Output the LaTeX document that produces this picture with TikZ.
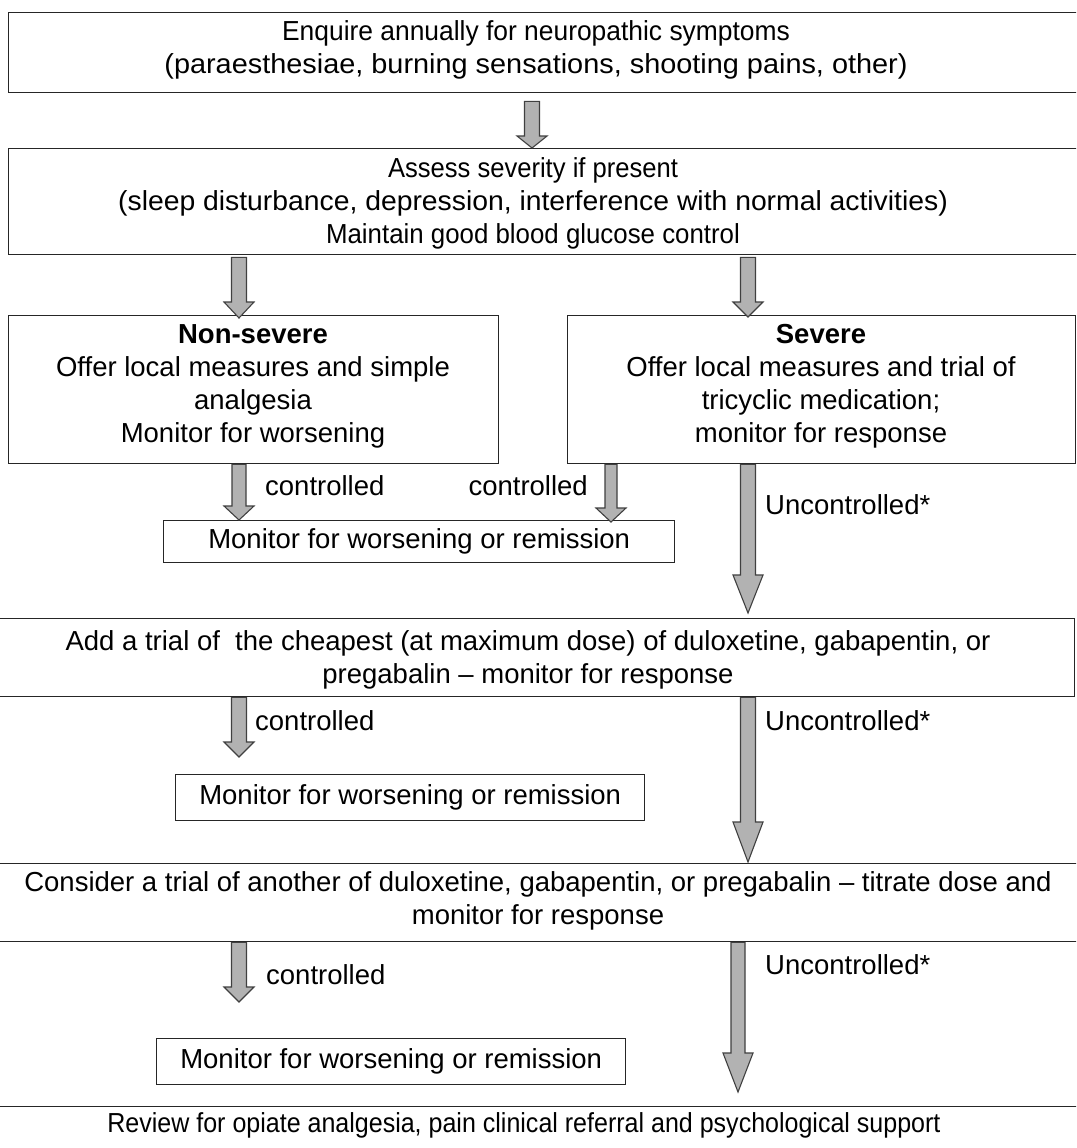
\documentclass[tikz,border=0pt]{standalone}
\usepackage{graphicx}
\usepackage{fontspec}
\setmainfont{Liberation Sans}
\usetikzlibrary{calc}
\tikzset{
  box/.style={draw=black!85, line width=1.4pt, rectangle, inner sep=0pt, anchor=north west},
  txt/.style={font=\fontsize{27.5}{33}\selectfont, align=center, inner sep=0pt},
  lbl/.style={font=\fontsize{27.5}{33}\selectfont, inner sep=0pt},
  barr/.style={fill=black!30, draw=black!75, line width=1.1pt, line join=miter},
}
\newcommand\hs[2]{\scalebox{#1}[1]{#2}}
\newcommand\blockarr[4]{%
  \draw[barr] let \p1=#1, \p2=#2 in
    ({\x1-#4pt},\y1) -- ({\x1+#4pt},\y1) -- ({\x1+#4pt},{\y2+#3pt}) -- ({\x1+15pt},{\y2+#3pt})
    -- (\x1,\y2) -- ({\x1-15pt},{\y2+#3pt}) -- ({\x1-#4pt},{\y2+#3pt}) -- cycle;}
\begin{document}
\begin{tikzpicture}[x=1pt,y=-1pt]
\useasboundingbox (0,0) rectangle (1076,1148);
\clip (0,0) rectangle (1076,1148);
\fill[white] (0,0) rectangle (1076,1148);
% boxes
\node[box, minimum width=1082pt, minimum height=80pt] (box1) at (8,12) {};
\node[box, minimum width=1082pt, minimum height=106pt] (box2) at (8,148) {};
\node[box, minimum width=490pt, minimum height=148pt] (nonsev) at (8,315) {};
\node[box, minimum width=508pt, minimum height=148pt] (sev) at (567,315) {};
\node[box, minimum width=511pt, minimum height=42pt, txt] (mon1) at (163,520) {Monitor for worsening or remission};
\node[box, minimum width=1092pt, minimum height=78pt] (box3) at (-18,618) {};
\node[box, minimum width=469pt, minimum height=46pt, txt] (mon2) at (175,774) {Monitor for worsening or remission};
\node[box, minimum width=1120pt, minimum height=78pt] (box4) at (-20,863) {};
\node[box, minimum width=469pt, minimum height=46pt, txt] (mon3) at (156,1038) {Monitor for worsening or remission};
\node[box, minimum width=1120pt, minimum height=80pt] (box5) at (-20,1106) {};
% texts of boxes
\node[txt] (t1) at (536,49.5) {\hs{0.96}{Enquire annually for neuropathic symptoms}\\\hs{1.05}{(paraesthesiae, burning sensations, shooting pains, other)}};
\node[txt] (t2) at (533,203.5) {\hs{0.93}{Assess severity if present}\\\hs{1.03}{(sleep disturbance, depression, interference with normal activities)}\\\hs{0.94}{Maintain good blood glucose control}};
\node[txt] (tns) at (253,386.5) {\textbf{Non-severe}\\Offer local measures and simple\\analgesia\\Monitor for worsening};
\node[txt] (tsev) at (821,386.5) {\textbf{Severe}\\Offer local measures and trial of\\tricyclic medication;\\monitor for response};
\node[txt] (t3) at (528,660) {Add a trial of~~the cheapest (at maximum dose) of duloxetine, gabapentin, or\\pregabalin -- monitor for response};
\node[txt] (t4) at (538,901) {Consider a trial of another of duloxetine, gabapentin, or pregabalin -- titrate dose and\\monitor for response};
\node[txt] (t5) at (524,1125) {\hs{0.91}{Review for opiate analgesia, pain clinical referral and psychological support}};
% arrows
\blockarr{([xshift=524pt,yshift=-8pt]box1.south west)}{([xshift=524pt]box2.north west)}{12}{7.5}
\blockarr{([xshift=231pt,yshift=-2pt]box2.south west)}{([xshift=231pt,yshift=-3pt]nonsev.north west)}{16}{7.5}
\blockarr{([xshift=740pt,yshift=-2pt]box2.south west)}{([xshift=181pt,yshift=-2pt]sev.north west)}{15}{7.5}
\blockarr{([xshift=231pt]nonsev.south west)}{([xshift=76pt]mon1.north west)}{14}{7}
\blockarr{([xshift=44pt]sev.south west)}{([xshift=448pt,yshift=-2pt]mon1.north west)}{14}{6}
\blockarr{([xshift=181pt]sev.south west)}{([xshift=766pt,yshift=5pt]box3.north west)}{38}{7.5}
\blockarr{([xshift=257pt]box3.south west)}{([xshift=64pt,yshift=17pt]mon2.north west)}{15}{7.5}
\blockarr{([xshift=766pt]box3.south west)}{([xshift=768pt,yshift=1pt]box4.north west)}{40}{7.5}
\blockarr{([xshift=259pt]box4.south west)}{([xshift=83pt,yshift=36pt]mon3.north west)}{15}{7.5}
\blockarr{([xshift=758pt]box4.south west)}{([xshift=758pt,yshift=14pt]box5.north west)}{39}{7}
% labels
\node[lbl, anchor=west] (l1) at (265,486) {controlled};
\node[lbl, anchor=east] (l2) at (588,486) {controlled};
\node[lbl, anchor=west] (l3) at (765,505) {Uncontrolled*};
\node[lbl, anchor=west] (l4) at (255,721) {controlled};
\node[lbl, anchor=west] (l5) at (765,721) {Uncontrolled*};
\node[lbl, anchor=west] (l6) at (266,975) {controlled};
\node[lbl, anchor=west] (l7) at (765,965) {Uncontrolled*};
\end{tikzpicture}
\end{document}
